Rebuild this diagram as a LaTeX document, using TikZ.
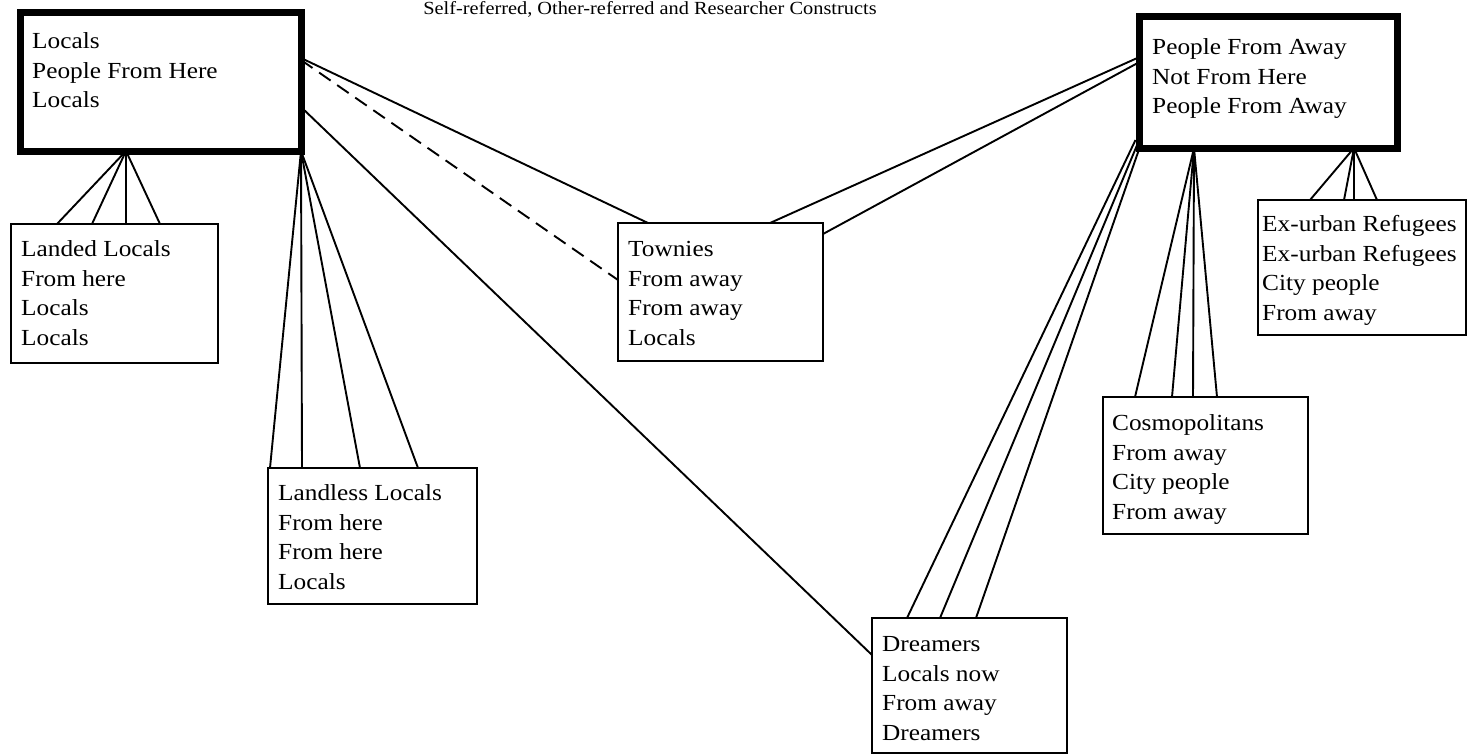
\documentclass[tikz,border=0pt]{standalone}
\usepackage{fontspec}
\setmainfont{Liberation Serif}[FakeStretch=1.1]
\usetikzlibrary{calc}
\begin{document}
\begin{tikzpicture}[x=1pt,y=-1pt,
  thickbox/.style={draw, line width=7pt, outer sep=0pt, inner sep=0pt, anchor=north west},
  thinbox/.style={draw, line width=2.6pt, outer sep=0pt, inner sep=0pt, anchor=north west},
  lbl/.style={anchor=north west, inner sep=0pt, align=left, font=\fontsize{23}{29.5}\selectfont},
  link/.style={line width=1.9pt},
  dlink/.style={link, dash pattern=on 14pt off 8pt}]
\useasboundingbox (0,0) rectangle (1469,755);

% title
\node[anchor=base, inner sep=0pt, font=\fontsize{18.5}{22}\selectfont] (title) at (650,14.5)
  {Self-referred, Other-referred and Researcher Constructs};

% boxes
\node[thickbox, minimum width=281pt, minimum height=139pt] (A) at (20,12) {};
\node[thickbox, minimum width=257.5pt, minimum height=132pt] (B) at (1139.5,16) {};
\node[thinbox, minimum width=207pt, minimum height=139pt] (C) at (11,224) {};
\node[thinbox, minimum width=209pt, minimum height=136pt] (D) at (268,468) {};
\node[thinbox, minimum width=205pt, minimum height=138pt] (E) at (618,223) {};
\node[thinbox, minimum width=195pt, minimum height=135pt] (F) at (872,618) {};
\node[thinbox, minimum width=205pt, minimum height=137pt] (G) at (1103,397) {};
\node[thinbox, minimum width=208pt, minimum height=135pt] (H) at (1258,200) {};

% texts
\node[lbl] (At) at (32,32.5) {Locals\\People From Here\\Locals};
\node[lbl] (Bt) at (1152,38.5) {People From Away\\Not From Here\\People From Away};
\node[lbl] (Ct) at (21,240.5) {Landed Locals\\From here\\Locals\\Locals};
\node[lbl] (Dt) at (278,484.5) {Landless Locals\\From here\\From here\\Locals};
\node[lbl] (Et) at (628,241.5) {Townies\\From away\\From away\\Locals};
\node[lbl] (Ft) at (882,636.5) {Dreamers\\Locals now\\From away\\Dreamers};
\node[lbl] (Gt) at (1112,414.5) {Cosmopolitans\\From away\\City people\\From away};
\node[lbl] (Ht) at (1262,215.5) {Ex-urban Refugees\\Ex-urban Refugees\\City people\\From away};

% A -> Landed Locals
\coordinate (Aa) at ($(A.south west)+(106,0)$);
\foreach \dx in {46,81,115,149}
  \draw[link] (Aa) -- ($(C.north west)+(\dx,0)$);

% A -> Landless Locals
\foreach \dx in {2,34,92,150}
  \draw[link] (A.south east) -- ($(D.north west)+(\dx,0)$);

% A -> Townies
\draw[link] ($(A.north east)+(0,46)$) -- ($(E.north west)+(30,0)$);
\draw[dlink] ($(A.north east)+(0,48)$) -- ($(E.north west)+(0,57)$);

% A -> Dreamers
\draw[link] ($(A.north east)+(0,95)$) -- ($(F.north west)+(0,37)$);

% B -> Townies
\draw[link] ($(B.north west)+(0,41)$) -- ($(E.north west)+(152,0)$);
\draw[link] ($(B.north west)+(0,46)$) -- ($(E.north east)+(0,11)$);

% B -> Dreamers
\draw[link] ($(B.south west)+(-4,-8)$) -- ($(F.north west)+(35,0)$);
\draw[link] ($(B.south west)+(-2,-4)$) -- ($(F.north west)+(68,0)$);
\draw[link] (B.south west) -- ($(F.north west)+(104,0)$);

% B -> Cosmopolitans
\coordinate (Bg) at ($(B.south west)+(54.5,0)$);
\foreach \dx in {32,69,90,114}
  \draw[link] (Bg) -- ($(G.north west)+(\dx,0)$);

% B -> Ex-urban Refugees
\coordinate (Bh) at ($(B.south west)+(214.5,0)$);
\foreach \dx in {52,86,96,119}
  \draw[link] (Bh) -- ($(H.north west)+(\dx,0)$);
\end{tikzpicture}
\end{document}
